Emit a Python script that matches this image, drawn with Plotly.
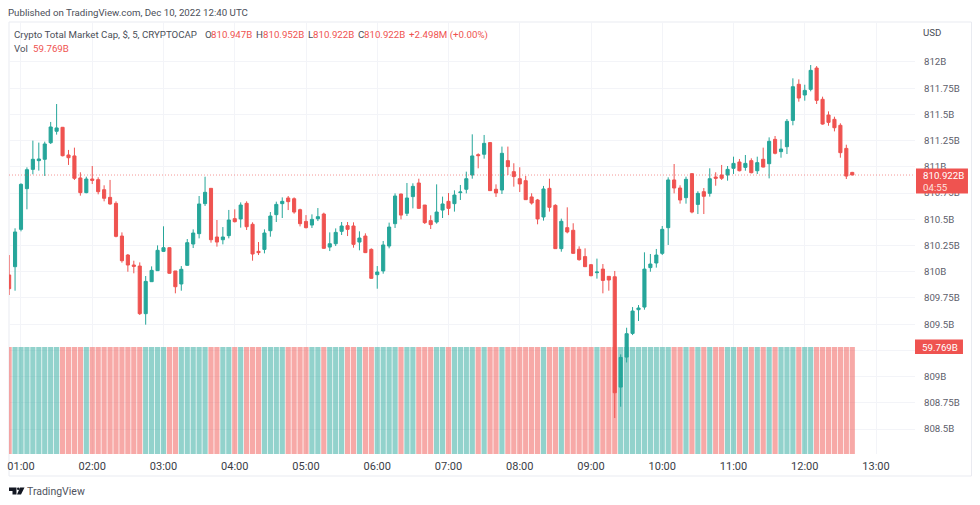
import pandas as pd
import plotly.graph_objects as go

# 5 minute candles, Dec 10 2022, 00:50 to 12:40 UTC (values in billions)
start_time = "2022-12-10 00:50"

open_prices = [
    809.969, 810.048, 810.404, 810.792, 810.976, 811.059, 811.072, 811.230, 811.339, 811.377,
    811.113, 811.104, 810.894, 810.754, 810.884, 810.878, 810.782, 810.709, 810.652, 810.340,
    810.159, 810.064, 810.054, 809.600, 809.905, 810.010, 810.194, 810.229, 810.007, 809.883,
    810.061, 810.264, 810.363, 810.649, 810.795, 810.331, 810.305, 810.344, 810.506, 810.503,
    810.652, 810.452, 810.194, 810.213, 810.391, 810.544, 810.649, 810.703, 810.696, 810.591,
    810.480, 810.445, 810.505, 810.550, 810.235, 810.267, 810.385, 810.439, 810.436, 810.283,
    810.340, 810.213, 809.972, 810.007, 810.245, 810.458, 810.741, 810.557, 810.716, 810.846,
    810.636, 810.487, 810.474, 810.588, 810.671, 810.649, 810.754, 810.786, 810.922, 811.116,
    811.120, 811.231, 810.786, 810.779, 811.059, 810.954, 810.887, 810.868, 810.713, 810.684,
    810.522, 810.795, 810.633, 810.220, 810.420, 810.395, 810.214, 810.144, 810.067, 809.991,
    810.025, 809.956, 809.952, 808.900, 809.186, 809.412, 809.638, 809.663, 810.039, 810.083,
    810.175, 810.420, 810.875, 810.798, 810.706, 810.935, 810.642, 810.763, 810.747, 810.903,
    810.922, 810.922, 810.986, 811.046, 810.995, 811.059, 810.963, 811.072, 811.030, 811.262,
    811.145, 811.192, 811.443, 811.787, 811.685, 811.739, 811.942, 811.644, 811.494, 811.453,
    811.396, 811.176, 810.947,
]
high_prices = [
    810.159, 810.414, 810.843, 810.995, 811.250, 811.231, 811.240, 811.428, 811.599, 811.380,
    811.161, 811.183, 810.948, 810.906, 811.008, 810.900, 810.824, 810.875, 810.671, 810.375,
    810.169, 810.105, 810.089, 809.959, 810.051, 810.251, 810.433, 810.232, 810.007, 810.054,
    810.312, 810.404, 810.722, 810.906, 810.795, 810.493, 810.426, 810.589, 810.595, 810.661,
    810.671, 810.471, 810.283, 810.404, 810.569, 810.668, 810.709, 810.722, 810.709, 810.601,
    810.540, 810.547, 810.607, 810.563, 810.375, 810.413, 810.474, 810.474, 810.471, 810.385,
    810.366, 810.223, 810.054, 810.293, 810.468, 810.747, 810.744, 810.846, 810.843, 810.887,
    810.636, 810.538, 810.833, 810.716, 810.750, 810.776, 810.827, 810.954, 811.310, 811.129,
    811.304, 811.237, 810.833, 811.193, 811.193, 811.034, 810.996, 810.913, 810.748, 810.694,
    810.818, 810.887, 810.643, 810.506, 810.614, 810.462, 810.242, 810.223, 810.074, 810.125,
    810.073, 809.959, 810.007, 809.212, 809.466, 809.663, 809.682, 810.185, 810.169, 810.217,
    810.436, 810.900, 811.027, 810.824, 810.906, 810.938, 810.767, 810.798, 810.986, 810.948,
    811.018, 811.008, 811.097, 811.075, 811.113, 811.081, 811.097, 811.183, 811.281, 811.294,
    811.262, 811.456, 811.844, 811.834, 811.783, 811.971, 811.961, 811.669, 811.529, 811.478,
    811.415, 811.211, 810.952,
]
low_prices = [
    809.778, 809.819, 810.385, 810.595, 810.929, 810.964, 810.913, 811.218, 811.307, 811.100,
    811.018, 810.875, 810.725, 810.748, 810.836, 810.738, 810.671, 810.639, 810.328, 810.086,
    810.000, 809.985, 809.587, 809.495, 809.902, 810.007, 810.188, 809.981, 809.794, 809.819,
    810.058, 810.226, 810.318, 810.627, 810.277, 810.239, 810.261, 810.318, 810.470, 810.420,
    810.398, 810.105, 810.159, 810.175, 810.334, 810.474, 810.512, 810.588, 810.553, 810.432,
    810.413, 810.417, 810.483, 810.219, 810.197, 810.245, 810.350, 810.340, 810.229, 810.204,
    810.178, 809.934, 809.838, 809.981, 810.223, 810.417, 810.499, 810.531, 810.604, 810.601,
    810.455, 810.407, 810.458, 810.512, 810.540, 810.573, 810.684, 810.747, 810.887, 810.986,
    811.078, 810.770, 810.713, 810.741, 810.922, 810.811, 810.760, 810.684, 810.640, 810.452,
    810.487, 810.573, 810.217, 810.191, 810.366, 810.172, 810.105, 810.045, 809.956, 809.934,
    809.794, 809.819, 808.605, 808.713, 809.135, 809.396, 809.530, 809.638, 810.000, 810.039,
    810.159, 810.255, 810.747, 810.649, 810.649, 810.557, 810.550, 810.550, 810.716, 810.820,
    810.875, 810.868, 810.932, 810.957, 810.963, 810.938, 810.932, 810.995, 810.890, 811.119,
    811.087, 811.122, 811.396, 811.621, 811.631, 811.720, 811.599, 811.402, 811.392, 811.338,
    811.087, 810.884, 810.922,
]
close_prices = [
    809.838, 810.379, 810.833, 810.973, 811.072, 811.075, 811.218, 811.380, 811.371, 811.106,
    811.087, 810.891, 810.754, 810.884, 810.871, 810.763, 810.700, 810.646, 810.337, 810.105,
    810.064, 810.051, 809.600, 809.908, 810.013, 810.204, 810.229, 809.985, 809.857, 810.023,
    810.277, 810.369, 810.646, 810.757, 810.305, 810.283, 810.331, 810.493, 810.477, 810.636,
    810.429, 810.169, 810.182, 810.369, 810.531, 810.642, 810.671, 810.668, 810.569, 810.458,
    810.420, 810.499, 810.525, 810.223, 810.267, 810.375, 810.436, 810.404, 810.261, 810.321,
    810.182, 809.937, 809.997, 810.255, 810.426, 810.722, 810.540, 810.703, 810.814, 810.604,
    810.468, 810.449, 810.569, 810.646, 810.604, 810.731, 810.760, 810.887, 811.104, 811.107,
    811.224, 810.773, 810.751, 811.129, 811.002, 810.907, 810.837, 810.687, 810.655, 810.503,
    810.789, 810.614, 810.220, 810.481, 810.379, 810.175, 810.115, 810.048, 809.962, 809.997,
    809.917, 809.921, 808.846, 809.183, 809.409, 809.625, 809.654, 810.025, 810.073, 810.159,
    810.404, 810.875, 810.798, 810.684, 810.881, 810.569, 810.747, 810.719, 810.887, 810.891,
    810.891, 810.976, 811.033, 810.963, 811.033, 810.944, 811.040, 810.998, 811.243, 811.129,
    811.170, 811.434, 811.764, 811.656, 811.729, 811.920, 811.634, 811.408, 811.424, 811.373,
    811.135, 810.912, 810.922,
]
# every volume bar sits flush at the same height in the picture
volumes = [
    59.769, 59.769, 59.769, 59.769, 59.769, 59.769, 59.769, 59.769, 59.769, 59.769,
    59.769, 59.769, 59.769, 59.769, 59.769, 59.769, 59.769, 59.769, 59.769, 59.769,
    59.769, 59.769, 59.769, 59.769, 59.769, 59.769, 59.769, 59.769, 59.769, 59.769,
    59.769, 59.769, 59.769, 59.769, 59.769, 59.769, 59.769, 59.769, 59.769, 59.769,
    59.769, 59.769, 59.769, 59.769, 59.769, 59.769, 59.769, 59.769, 59.769, 59.769,
    59.769, 59.769, 59.769, 59.769, 59.769, 59.769, 59.769, 59.769, 59.769, 59.769,
    59.769, 59.769, 59.769, 59.769, 59.769, 59.769, 59.769, 59.769, 59.769, 59.769,
    59.769, 59.769, 59.769, 59.769, 59.769, 59.769, 59.769, 59.769, 59.769, 59.769,
    59.769, 59.769, 59.769, 59.769, 59.769, 59.769, 59.769, 59.769, 59.769, 59.769,
    59.769, 59.769, 59.769, 59.769, 59.769, 59.769, 59.769, 59.769, 59.769, 59.769,
    59.769, 59.769, 59.769, 59.769, 59.769, 59.769, 59.769, 59.769, 59.769, 59.769,
    59.769, 59.769, 59.769, 59.769, 59.769, 59.769, 59.769, 59.769, 59.769, 59.769,
    59.769, 59.769, 59.769, 59.769, 59.769, 59.769, 59.769, 59.769, 59.769, 59.769,
    59.769, 59.769, 59.769, 59.769, 59.769, 59.769, 59.769, 59.769, 59.769, 59.769,
    59.769, 59.769, 59.769,
]
price_ticks = [808.5, 808.75, 809, 809.25, 809.5, 809.75, 810, 810.25, 810.5, 810.75, 811, 811.25, 811.5, 811.75, 812]
price_labels = ["808.5B", "808.75B", "809B", "809.25B", "809.5B", "809.75B", "810B", "810.25B", "810.5B",
                "810.75B", "811B", "811.25B", "811.5B", "811.75B", "812B"]
last_close = close_prices[-1]

GREEN = "#26a69a"
RED = "#ef5350"
GRID = "#f3f4f8"
TEXT = "#4a4e58"
FONT = "Roboto"

# plot area in window pixels
LEFT, RIGHT, TOP, BOTTOM = 8.5, 915, 22, 454


def px(x):
    return (x - LEFT) / (RIGHT - LEFT)


def py(y):
    return (BOTTOM - y) / (BOTTOM - TOP)


times = pd.date_range(start_time, periods=len(close_prices), freq="5min")
bar_colors = ["rgba(239,83,80,0.5)" if c < o else "rgba(38,166,154,0.5)"
              for o, c in zip(open_prices, close_prices)]

fig = go.Figure()
fig.add_trace(go.Bar(x=times, y=volumes, marker=dict(color=bar_colors, line_width=0),
                     yaxis="y", hoverinfo="skip"))
fig.add_trace(go.Candlestick(
    x=times, open=open_prices, high=high_prices, low=low_prices, close=close_prices,
    yaxis="y2", whiskerwidth=0,
    increasing=dict(line=dict(color=GREEN, width=1), fillcolor=GREEN),
    decreasing=dict(line=dict(color=RED, width=1), fillcolor=RED),
))


def label(x, y, text, color=TEXT, size=9.7, anchor="left"):
    return dict(x=px(x), y=py(y), xref="paper", yref="paper", text=text, showarrow=False,
                xanchor=anchor, yanchor="middle", borderpad=0, borderwidth=0, xshift=-1,
                font=dict(family=FONT, size=size, color=color))


annotations = [
    label(8, 12, "Published on TradingView.com, Dec 10, 2022 12:40 UTC"),
    label(15, 35, "Crypto Total Market Cap, $, 5, CRYPTOCAP"),
    label(206, 35, "O"),
    label(212, 35, "810.947B", RED),
    label(257, 35, "H"),
    label(264, 35, "810.952B", RED),
    label(309, 35, "L"),
    label(314, 35, "810.922B", RED),
    label(359, 35, "C"),
    label(365, 35, "810.922B", RED),
    label(410, 35, "+2.498M (+0.00%)", RED),
    label(15, 48, "Vol"),
    label(34, 48, "59.769B", RED),
    label(924, 33, "USD"),
    label(924, 175.5, "810.922B", "#ffffff"),
    label(924, 187, "04:55", "#ffe0df"),
    label(923, 347, "59.769B", "#ffffff"),
    label(28, 491, "TradingView", "#50535e", size=10.5),
]

shapes = [
    # outer frame of the chart
    dict(type="rect", xref="paper", yref="paper", x0=px(8.5), x1=px(971.5), y0=py(476), y1=py(22),
         line=dict(color="#e9ebf1", width=1), layer="below"),
    # last price line
    dict(type="line", xref="paper", yref="y2", x0=0, x1=1, y0=last_close, y1=last_close,
         line=dict(color="rgba(239,83,80,0.6)", width=1, dash="1px,2px")),
    # price and volume tags
    dict(type="rect", xref="paper", yref="paper", x0=px(916), x1=px(968), y0=py(193.5), y1=py(168.5),
         fillcolor=RED, line_width=0),
    dict(type="rect", xref="paper", yref="paper", x0=px(915), x1=px(963), y0=py(354), y1=py(339.5),
         fillcolor=RED, line_width=0),
    # TradingView logo
    dict(type="path", xref="paper", yref="paper", fillcolor="#131722", line_width=0,
         path=f"M{px(8.5)},{py(487.5)} L{px(16)},{py(487.5)} L{px(16)},{py(494.5)} L{px(12)},{py(494.5)} "
              f"L{px(12)},{py(491)} L{px(8.5)},{py(491)} Z"),
    dict(type="path", xref="paper", yref="paper", fillcolor="#131722", line_width=0,
         path=f"M{px(19.5)},{py(487.5)} L{px(24)},{py(487.5)} L{px(20.5)},{py(494.5)} L{px(16.5)},{py(494.5)} Z"),
    dict(type="circle", xref="paper", yref="paper", fillcolor="#131722", line_width=0,
         x0=px(16.5), x1=px(19), y0=py(490), y1=py(487.5)),
]

fig.update_layout(
    width=980,
    height=505,
    autosize=False,
    template=None,
    showlegend=False,
    paper_bgcolor="#ffffff",
    plot_bgcolor="#ffffff",
    margin=dict(l=LEFT, r=980 - RIGHT, t=TOP, b=505 - BOTTOM, pad=0),
    bargap=0.12,
    boxgap=0.25,
    annotations=annotations,
    shapes=shapes,
    xaxis=dict(
        type="date",
        range=["2022-12-10 00:49:54", "2022-12-10 13:32:50"],
        tick0="2022-12-10 01:00",
        dtick=3600000,
        tickformat="%H:%M",
        ticks="outside",
        ticklen=2,
        tickcolor="rgba(0,0,0,0)",
        showgrid=True,
        gridcolor=GRID,
        gridwidth=1,
        showline=False,
        zeroline=False,
        rangeslider=dict(visible=False),
        tickfont=dict(family=FONT, size=11, color="#3a3d46"),
    ),
    yaxis=dict(
        range=[0, 241.3],
        showgrid=False,
        showticklabels=False,
        zeroline=False,
        showline=False,
        ticks="",
    ),
    yaxis2=dict(
        overlaying="y",
        side="right",
        range=[808.262, 812.381],
        tickmode="array",
        tickvals=price_ticks,
        ticktext=price_labels,
        ticks="outside",
        ticklen=6,
        tickcolor="rgba(0,0,0,0)",
        showgrid=True,
        gridcolor=GRID,
        gridwidth=1,
        zeroline=False,
        showline=False,
        tickfont=dict(family=FONT, size=9.7, color="#5d606b"),
    ),
)

fig.write_html("out.html", config={"displayModeBar": False},
               post_script="document.body.style.margin='0';document.documentElement.style.overflow='hidden';")
